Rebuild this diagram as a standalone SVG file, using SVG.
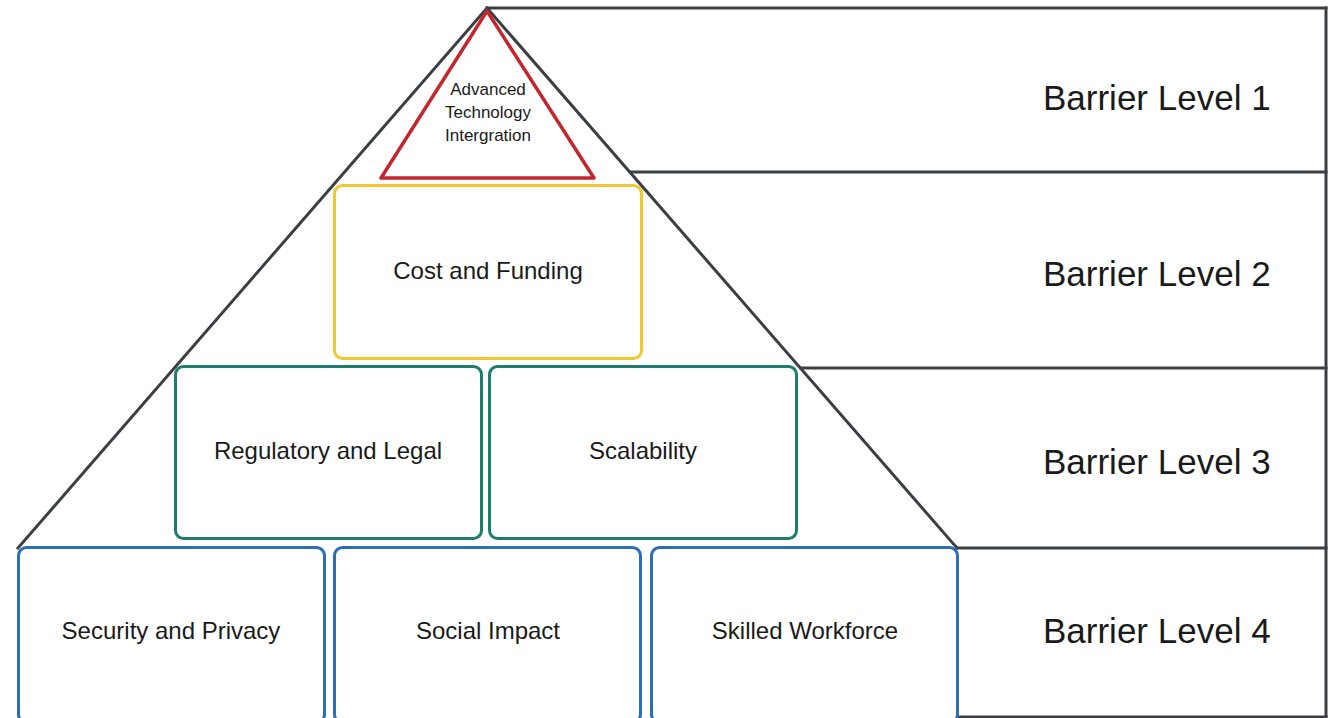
<svg xmlns="http://www.w3.org/2000/svg" width="1329" height="718" viewBox="0 0 1329 718">
<style>
.frame{fill:none;stroke:#3b3f44;stroke-width:3;stroke-linecap:square}
.box{fill:#fff;stroke-width:3}
.yel{stroke:#f0c930}
.grn{stroke:#1e7d6c}
.blu{stroke:#2d6fb6}
.red{fill:#fff;stroke:#c1272d;stroke-width:3.5;stroke-linejoin:round}
text{font-family:"Liberation Sans",Arial,sans-serif;fill:#1a1a1a;text-anchor:middle}
.n{font-size:24px}
.s{font-size:17px}
.lv{font-size:35px;text-anchor:start}
</style>
<rect width="1329" height="718" fill="#fff"/>
<g id="connectors">
<polyline class="frame" points="18,548 487,8 957,548"/>
<line class="frame" x1="487" y1="8" x2="1326" y2="8"/>
<line class="frame" x1="631" y1="172" x2="1326" y2="172"/>
<line class="frame" x1="801" y1="368" x2="1326" y2="368"/>
<line class="frame" x1="957" y1="548" x2="1326" y2="548"/>
<line class="frame" x1="957" y1="717" x2="1326" y2="717"/>
<line class="frame" x1="1326" y1="8" x2="1326" y2="717"/>
</g>
<g id="n-advanced">
<polygon class="red" points="487,11 381,178 594,178"/>
<text class="s" x="488" y="95">Advanced</text>
<text class="s" x="488" y="118">Technology</text>
<text class="s" x="488" y="141">Intergration</text>
</g>
<g id="n-cost">
<rect class="box yel" x="334.5" y="185.5" width="307" height="173" rx="8"/>
<text class="n" x="488" y="279">Cost and Funding</text>
</g>
<g id="n-regulatory">
<rect class="box grn" x="175.5" y="366.5" width="306" height="172" rx="8"/>
<text class="n" x="328" y="459">Regulatory and Legal</text>
</g>
<g id="n-scalability">
<rect class="box grn" x="489.5" y="366.5" width="307" height="172" rx="8"/>
<text class="n" x="643" y="459">Scalability</text>
</g>
<g id="n-security">
<rect class="box blu" x="18.5" y="547.5" width="306" height="175" rx="8"/>
<text class="n" x="171" y="639">Security and Privacy</text>
</g>
<g id="n-social">
<rect class="box blu" x="334.5" y="547.5" width="306" height="175" rx="8"/>
<text class="n" x="488" y="639">Social Impact</text>
</g>
<g id="n-skilled">
<rect class="box blu" x="651.5" y="547.5" width="306" height="175" rx="8"/>
<text class="n" x="805" y="639">Skilled Workforce</text>
</g>
<g id="levels">
<text class="lv" x="1043" y="110">Barrier Level 1</text>
<text class="lv" x="1043" y="286">Barrier Level 2</text>
<text class="lv" x="1043" y="474">Barrier Level 3</text>
<text class="lv" x="1043" y="643">Barrier Level 4</text>
</g>
</svg>
